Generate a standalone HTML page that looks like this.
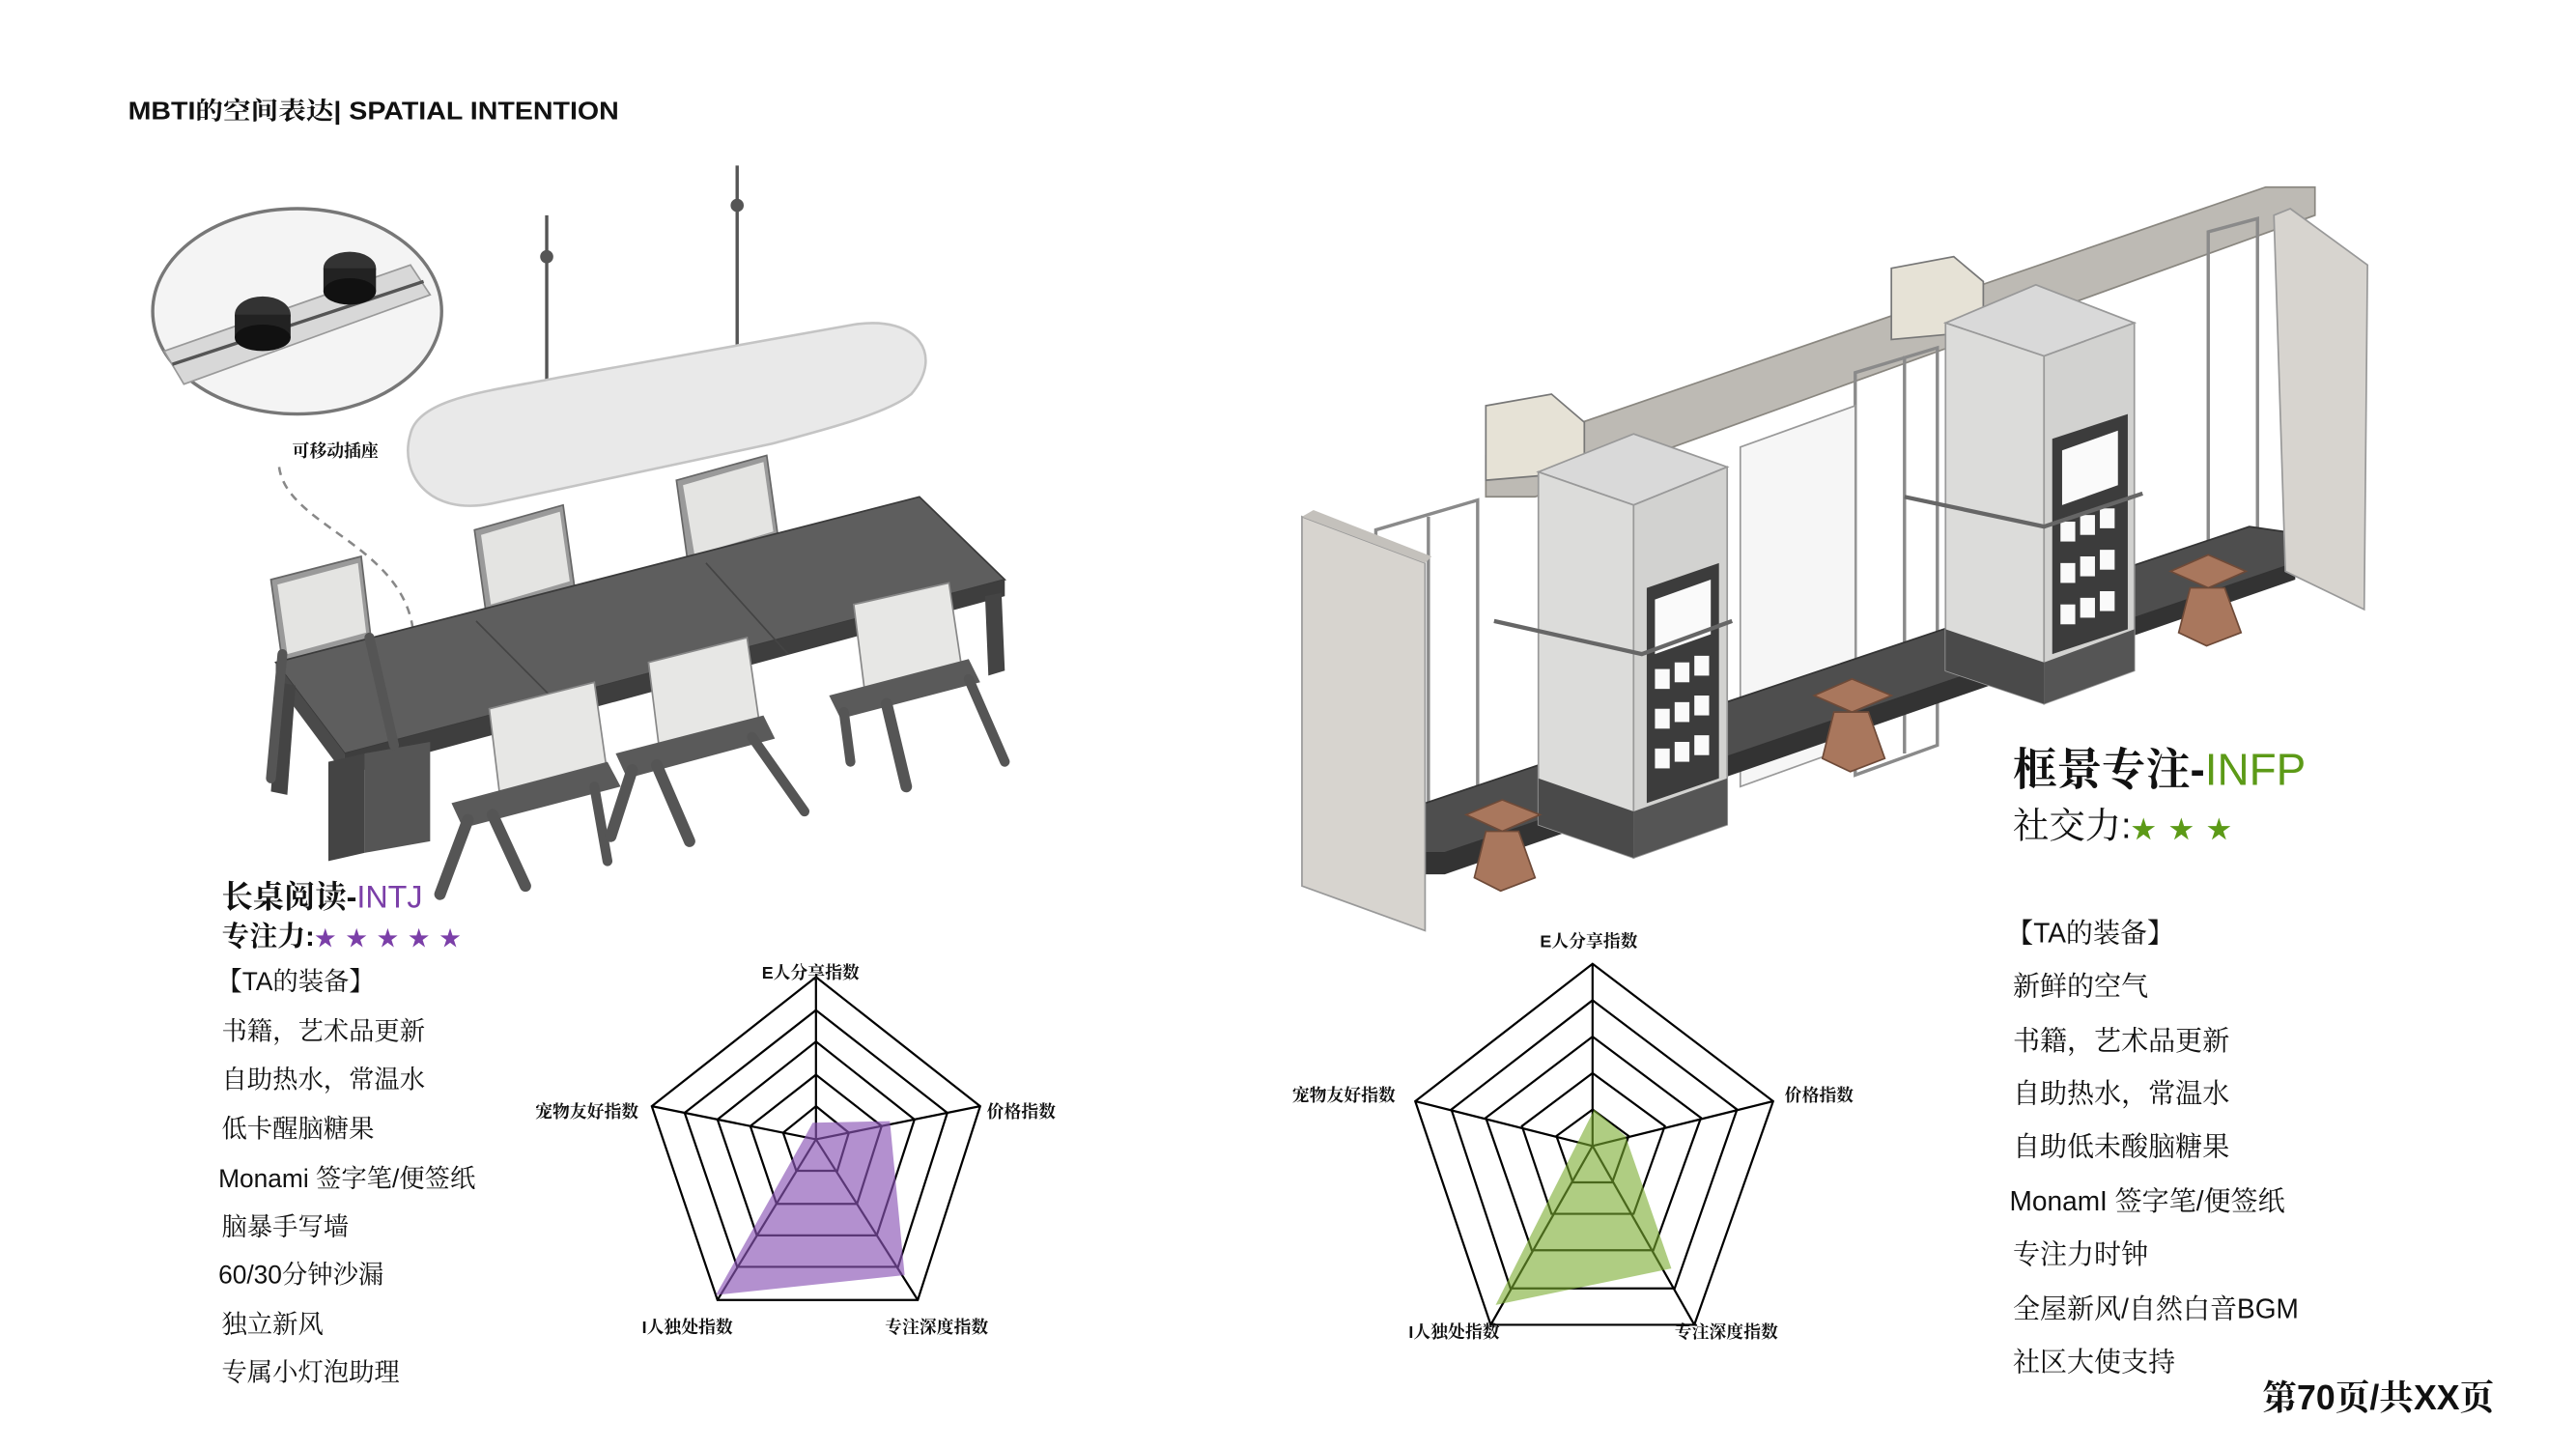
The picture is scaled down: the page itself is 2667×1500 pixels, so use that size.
<!DOCTYPE html>
<html><head><meta charset="utf-8">
<style>
html,body{margin:0;padding:0;background:#fff;}
svg{display:block}
.t{font-family:"Liberation Sans","Noto Serif CJK SC",serif;}
.cn{font-family:"Liberation Sans","Noto Serif CJK SC",serif;}
.lb{font-family:"Liberation Sans","Noto Serif CJK SC",serif;font-weight:bold;font-size:10.5px;}
</style></head>
<body>
<svg width="2667" height="1500" viewBox="0 0 1569 875" preserveAspectRatio="none" xmlns="http://www.w3.org/2000/svg">
<rect width="1569" height="875" fill="#fff"/>
<text x="78" y="72" class="t" font-size="15" font-weight="bold" fill="#111" textLength="299" lengthAdjust="spacingAndGlyphs">MBTI的空间表达| SPATIAL INTENTION</text>

<!-- LEFT SCENE -->
<ellipse cx="181" cy="188" rx="88" ry="62" fill="#f4f4f4" stroke="#777" stroke-width="2"/>
<polygon points="100,212 250,160 262,178 112,232" fill="#d8d8d8" stroke="#999"/>
<line x1="105" y1="220" x2="258" y2="170" stroke="#555" stroke-width="2"/>
<ellipse cx="160" cy="190" rx="17" ry="11" fill="#333"/>
<rect x="143" y="190" width="34" height="14" fill="#222"/>
<ellipse cx="160" cy="204" rx="17" ry="8" fill="#111"/>
<ellipse cx="213" cy="162" rx="16" ry="10" fill="#333"/>
<rect x="197" y="162" width="32" height="14" fill="#222"/>
<ellipse cx="213" cy="176" rx="16" ry="8" fill="#111"/>
<text x="178" y="276" class="lb" font-size="12" fill="#111">可移动插座</text>
<path d="M170,282 C175,320 255,330 252,392" fill="none" stroke="#888" stroke-width="1.5" stroke-dasharray="5,4"/>
<path d="M246,385 L252,396 L258,385" fill="none" stroke="#888" stroke-width="1.5"/>
<line x1="333" y1="130" x2="333" y2="238" stroke="#555" stroke-width="2"/>
<line x1="449" y1="100" x2="449" y2="212" stroke="#555" stroke-width="2"/>
<circle cx="333" cy="155" r="4" fill="#555"/><circle cx="449" cy="124" r="4" fill="#555"/>
<path d="M250,262 C255,240 300,236 340,228 L520,196 C560,190 575,215 555,238 C540,250 500,260 470,268 L300,304 C260,312 243,285 250,262 Z" fill="#e9e9e9" stroke="#c4c4c4" stroke-width="1.5"/>
<g fill="#9a9a9a" stroke="#666">
<polygon points="165,350 220,336 226,386 172,400"/>
<polygon points="289,320 343,305 350,355 296,370"/>
<polygon points="412,290 467,275 474,325 419,340"/>
</g>
<g fill="#e4e4e2"><polygon points="169,353 218,340 223,382 175,395"/><polygon points="293,323 341,309 347,351 299,365"/><polygon points="416,293 465,279 471,321 423,335"/></g>
<polygon points="168,400 560,300 612,350 210,455" fill="#5e5e5e" stroke="#3a3a3a"/>
<polygon points="210,455 612,350 612,360 210,468" fill="#3e3e3e"/>
<polygon points="168,400 210,455 210,468 168,412" fill="#4a4a4a"/>
<line x1="290" y1="375" x2="345" y2="430" stroke="#444"/>
<line x1="430" y1="340" x2="480" y2="395" stroke="#444"/>
<polygon points="200,460 222,455 222,515 200,520" fill="#444"/>
<polygon points="222,455 262,448 262,508 222,515" fill="#555"/>
<polygon points="170,412 180,414 175,480 165,478" fill="#444"/>
<polygon points="600,360 610,358 612,405 602,408" fill="#444"/>
<polygon points="340,425 350,423 350,480 340,482" fill="#444"/>
<g>
<polygon points="298,428 362,412 370,468 305,485" fill="#e7e7e5" stroke="#888"/>
<polygon points="275,485 370,460 378,475 282,500" fill="#5a5a5a"/>
<line x1="285" y1="495" x2="268" y2="540" stroke="#555" stroke-width="7" stroke-linecap="round"/>
<line x1="300" y1="492" x2="320" y2="535" stroke="#555" stroke-width="7" stroke-linecap="round"/>
<line x1="362" y1="475" x2="370" y2="520" stroke="#555" stroke-width="6" stroke-linecap="round"/>
<polygon points="395,400 455,385 463,440 402,456" fill="#e7e7e5" stroke="#888"/>
<polygon points="375,455 465,432 472,446 382,470" fill="#5a5a5a"/>
<line x1="385" y1="465" x2="372" y2="505" stroke="#555" stroke-width="7" stroke-linecap="round"/>
<line x1="400" y1="462" x2="420" y2="508" stroke="#555" stroke-width="7" stroke-linecap="round"/>
<line x1="458" y1="445" x2="490" y2="490" stroke="#555" stroke-width="6" stroke-linecap="round"/>
<polygon points="520,365 578,352 586,405 527,420" fill="#e7e7e5" stroke="#888"/>
<polygon points="505,420 590,398 597,412 512,434" fill="#5a5a5a"/>
<line x1="514" y1="430" x2="518" y2="460" stroke="#555" stroke-width="6" stroke-linecap="round"/>
<line x1="540" y1="425" x2="552" y2="475" stroke="#555" stroke-width="7" stroke-linecap="round"/>
<line x1="590" y1="410" x2="612" y2="460" stroke="#555" stroke-width="6" stroke-linecap="round"/>
<line x1="172" y1="395" x2="165" y2="470" stroke="#555" stroke-width="6" stroke-linecap="round"/>
<line x1="225" y1="385" x2="240" y2="450" stroke="#555" stroke-width="6" stroke-linecap="round"/>
</g>

<!-- RIGHT SCENE -->
<polygon points="905,275 1380,113 1410,113 1410,130 935,300 905,300" fill="#bdbab4" stroke="#8a8780"/>
<polygon points="905,245 945,238 965,255 965,285 905,290" fill="#e6e2d6" stroke="#777"/>
<polygon points="1152,162 1190,155 1208,170 1208,200 1152,205" fill="#e6e2d6" stroke="#777"/>
<g fill="none" stroke="#8a8a8a" stroke-width="2">
<polygon points="838,320 900,302 900,510 838,530"/>
<polygon points="1130,225 1180,210 1180,450 1130,468"/>
<polygon points="1345,140 1375,132 1375,330 1345,340"/>
<line x1="870" y1="312" x2="870" y2="520"/>
<line x1="1160" y1="215" x2="1160" y2="455"/>
</g>
<polygon points="1060,270 1130,245 1130,450 1060,475" fill="#f6f6f6" stroke="#999"/>
<polygon points="868,485 1370,318 1398,322 1398,340 880,515 868,515" fill="#4e4e4e" stroke="#333"/>
<polygon points="868,515 880,515 1398,340 1398,350 880,528 868,528" fill="#333"/>
<polygon points="793,312 868,340 868,562 793,535" fill="#d7d4cf" stroke="#999"/>
<polygon points="793,312 800,308 872,336 868,340" fill="#c4c1bc"/>
<polygon points="1385,130 1395,126 1442,160 1440,368 1392,345" fill="#d7d4cf" stroke="#999"/>
<polygon points="937,285 995,262 1052,282 995,305" fill="#d9d9d9" stroke="#999"/>
<polygon points="937,285 995,305 995,518 937,498" fill="#dcdcda" stroke="#999"/>
<polygon points="995,305 1052,282 1052,498 995,518" fill="#d2d2d0" stroke="#999"/>
<polygon points="937,470 995,490 995,518 937,498" fill="#4a4a4a"/>
<polygon points="995,490 1052,470 1052,498 995,518" fill="#555"/>
<polygon points="1003,355 1047,340 1047,470 1003,485" fill="#3c3c3c"/>
<g fill="#fafafa"><polygon points="1008,362 1042,350 1042,383 1008,395"/>
<rect x="1008" y="404" width="9" height="12"/><rect x="1020" y="400" width="9" height="12"/><rect x="1032" y="396" width="9" height="12"/>
<rect x="1008" y="428" width="9" height="12"/><rect x="1020" y="424" width="9" height="12"/><rect x="1032" y="420" width="9" height="12"/>
<rect x="1008" y="452" width="9" height="12"/><rect x="1020" y="448" width="9" height="12"/><rect x="1032" y="444" width="9" height="12"/></g>
<path d="M910,375 L1000,395 L1055,375" fill="none" stroke="#666" stroke-width="2.5"/>
<polygon points="1185,195 1240,172 1300,195 1245,215" fill="#d9d9d9" stroke="#999"/>
<polygon points="1185,195 1245,215 1245,425 1185,405" fill="#dcdcda" stroke="#999"/>
<polygon points="1245,215 1300,195 1300,405 1245,425" fill="#d2d2d0" stroke="#999"/>
<polygon points="1185,380 1245,400 1245,425 1185,405" fill="#4a4a4a"/>
<polygon points="1245,400 1300,380 1300,405 1245,425" fill="#555"/>
<polygon points="1250,265 1296,250 1296,380 1250,395" fill="#3c3c3c"/>
<g fill="#fafafa"><polygon points="1256,272 1290,260 1290,293 1256,305"/>
<rect x="1255" y="315" width="9" height="12"/><rect x="1267" y="311" width="9" height="12"/><rect x="1279" y="307" width="9" height="12"/>
<rect x="1255" y="340" width="9" height="12"/><rect x="1267" y="336" width="9" height="12"/><rect x="1279" y="332" width="9" height="12"/>
<rect x="1255" y="365" width="9" height="12"/><rect x="1267" y="361" width="9" height="12"/><rect x="1279" y="357" width="9" height="12"/></g>
<path d="M1160,300 L1245,318 L1305,298" fill="none" stroke="#666" stroke-width="2.5"/>
<g fill="#a9775d" stroke="#6e4a38">
<polygon points="893,492 915,483 938,492 915,502"/>
<polygon points="905,502 925,502 935,530 914,538 898,530"/>
<polygon points="1105,420 1128,410 1152,420 1128,430"/>
<polygon points="1117,430 1138,430 1148,458 1127,466 1110,458"/>
<polygon points="1322,345 1345,335 1368,345 1345,355"/>
<polygon points="1334,355 1355,355 1365,382 1344,390 1327,382"/>
</g>

<!-- Left text -->
<text x="135" y="548" class="cn" font-size="19" font-weight="bold" fill="#111">长桌阅读-<tspan fill="#7b3fa8" font-weight="normal">INTJ</tspan></text>
<text x="135" y="571" class="cn" font-size="17" font-weight="bold" fill="#111">专注力:<tspan fill="#7b3fa8" font-size="13" letter-spacing="6">★★★★★</tspan></text>
<g class="cn" font-size="15.5" fill="#111">
<text x="132" y="598">【TA的装备】</text>
<text x="135" y="628">书籍，艺术品更新</text>
<text x="135" y="657">自助热水，常温水</text>
<text x="135" y="687">低卡醒脑糖果</text>
<text x="133" y="717">Monami 签字笔/便签纸</text>
<text x="135" y="746">脑暴手写墙</text>
<text x="133" y="775">60/30分钟沙漏</text>
<text x="135" y="805">独立新风</text>
<text x="135" y="834">专属小灯泡助理</text>
</g>

<!-- Left radar -->
<g stroke="#000" fill="none" stroke-width="1.3">
<polygon points="497,590 597,668 559,785 437,785 397,668"/>
<polygon points="497,610 577,672 547,765 449,765 417,672"/>
<polygon points="497,629 557,676 534,746 461,746 437,676"/>
<polygon points="497,649 537,680 522,727 473,727 457,680"/>
<polygon points="497,668 517,684 510,707 485,707 477,684"/>
<line x1="497" y1="688" x2="497" y2="590"/>
<line x1="497" y1="688" x2="597" y2="668"/>
<line x1="497" y1="688" x2="559" y2="785"/>
<line x1="497" y1="688" x2="437" y2="785"/>
<line x1="497" y1="688" x2="397" y2="668"/>
</g>
<polygon points="495,678 542,677 551,770 436,782 490,687" fill="#8a55b5" fill-opacity="0.65"/>
<g class="lb" fill="#111">
<text x="464" y="591">E人分享指数</text>
<text x="601" y="675">价格指数</text>
<text x="326" y="675">宠物友好指数</text>
<text x="391" y="805">I人独处指数</text>
<text x="539" y="805">专注深度指数</text>
</g>

<!-- Right radar -->
<g stroke="#000" fill="none" stroke-width="1.3">
<polygon points="970,582 1080,665 1032,800 908,800 862,665"/>
<polygon points="970,604 1058,670 1020,778 920,778 884,670"/>
<polygon points="970,626 1036,675 1007,755 933,755 905,675"/>
<polygon points="970,648 1014,680 995,733 945,733 927,680"/>
<polygon points="970,670 992,686 982,714 958,714 948,686"/>
<line x1="970" y1="692" x2="970" y2="582"/>
<line x1="970" y1="692" x2="1080" y2="665"/>
<line x1="970" y1="692" x2="1032" y2="800"/>
<line x1="970" y1="692" x2="908" y2="800"/>
<line x1="970" y1="692" x2="862" y2="665"/>
</g>
<polygon points="971,670 990,686 1018,766 911,788" fill="#79ab2e" fill-opacity="0.6"/>
<g class="lb" fill="#111">
<text x="938" y="572">E人分享指数</text>
<text x="1087" y="665">价格指数</text>
<text x="787" y="665">宠物友好指数</text>
<text x="858" y="808">I人独处指数</text>
<text x="1020" y="808">专注深度指数</text>
</g>

<!-- Right text -->
<text x="1226" y="474" class="cn" font-size="27" font-weight="bold" fill="#111">框景专注-<tspan fill="#5c9a17" font-weight="normal">INFP</tspan></text>
<text x="1226" y="506" class="cn" font-size="22" fill="#111">社交力:<tspan fill="#5c9a17" font-size="15" letter-spacing="8">★★★</tspan></text>
<g class="cn" font-size="16.5" fill="#111">
<text x="1222" y="569">【TA的装备】</text>
<text x="1226" y="601">新鲜的空气</text>
<text x="1226" y="634">书籍，艺术品更新</text>
<text x="1226" y="666">自助热水，常温水</text>
<text x="1226" y="698">自助低未酸脑糖果</text>
<text x="1224" y="731">MonamI 签字笔/便签纸</text>
<text x="1226" y="763">专注力时钟</text>
<text x="1226" y="796">全屋新风/自然白音BGM</text>
<text x="1226" y="828">社区大使支持</text>
</g>
<text x="1378" y="851" class="cn" font-size="21" font-weight="bold" fill="#111">第70页/共XX页</text>
</svg>
</body></html>
